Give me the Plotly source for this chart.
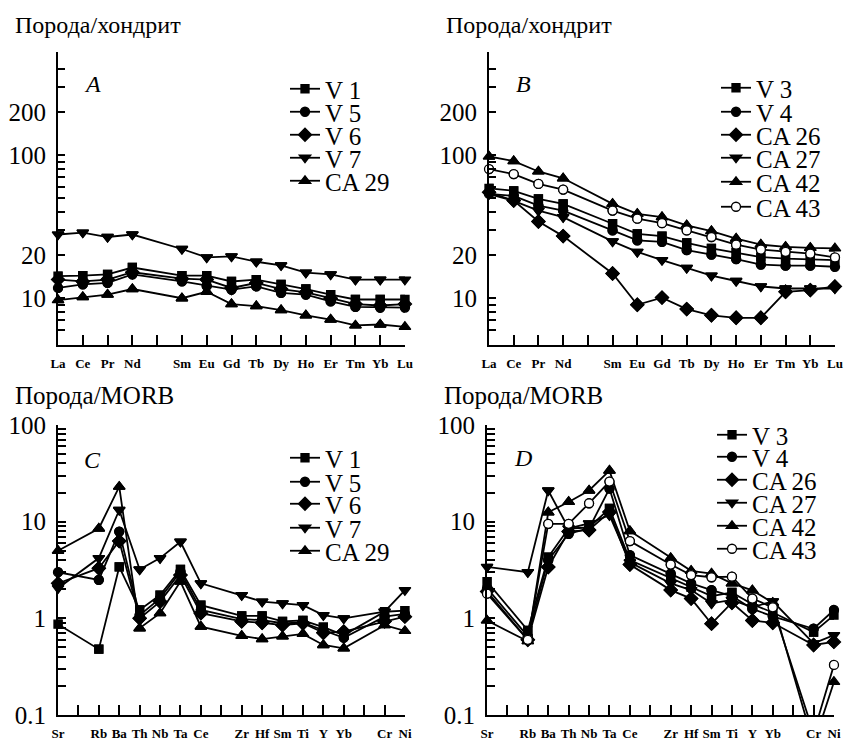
import plotly.graph_objects as go

W, H = 844, 741

# ---------------- data ----------------
REE_AXIS = ["La", "Ce", "Pr", "Nd", "", "Sm", "Eu", "Gd", "Tb", "Dy", "Ho", "Er", "Tm", "Yb", "Lu"]
REE = ["La", "Ce", "Pr", "Nd", "Sm", "Eu", "Gd", "Tb", "Dy", "Ho", "Er", "Tm", "Yb", "Lu"]
TE_AXIS = ["Sr", "", "Rb", "Ba", "Th", "Nb", "Ta", "Ce", "", "Zr", "Hf", "Sm", "Ti", "Y", "Yb", "", "Cr", "Ni"]
TE = ["Sr", "Rb", "Ba", "Th", "Nb", "Ta", "Ce", "Zr", "Hf", "Sm", "Ti", "Y", "Yb", "Cr", "Ni"]

# Panel A: rock / chondrite
A_V1 = [14.3, 14.4, 14.7, 16.4, 14.4, 14.4, 13.1, 13.5, 12.5, 11.6, 10.6, 9.8, 9.8, 9.8]
A_V5 = [11.8, 12.5, 12.8, 14.7, 13.1, 12.2, 11.5, 12.1, 10.9, 10.6, 9.5, 8.7, 8.6, 8.6]
A_V6 = [13.5, 13.1, 13.5, 15.2, 13.7, 13.5, 11.8, 12.8, 11.6, 11.0, 10.0, 9.1, 8.9, 9.1]
A_V7 = [27.9, 28.8, 26.8, 27.9, 22.1, 19.3, 19.6, 18.0, 17.0, 15.1, 14.7, 13.5, 13.5, 13.5]
A_CA29 = [9.7, 10.2, 10.6, 11.6, 10.0, 11.1, 9.1, 8.8, 8.25, 7.6, 7.1, 6.45, 6.55, 6.3]

# Panel B: rock / chondrite
B_V3 = [58.6, 56.4, 49.5, 45.7, 33.2, 28.2, 27.2, 24.4, 22.3, 20.9, 19.4, 18.9, 18.8, 18.5]
B_V4 = [53.6, 52.0, 44.5, 41.0, 29.8, 25.4, 24.8, 21.7, 20.2, 18.8, 17.2, 16.9, 16.9, 16.6]
B_CA26 = [55.0, 48.2, 34.4, 27.2, 14.9, 9.0, 10.1, 8.4, 7.6, 7.3, 7.3, 11.1, 11.4, 12.1]
B_CA27 = [53.6, 48.0, 41.0, 36.9, 25.0, 21.1, 18.5, 16.3, 14.4, 13.2, 12.1, 11.7, 11.7, 11.7]
B_CA42 = [98.0, 91.0, 77.0, 69.0, 45.7, 38.9, 36.9, 32.3, 29.5, 26.1, 23.7, 22.9, 22.5, 22.3]
B_CA43 = [80.0, 73.8, 63.0, 57.5, 41.0, 36.0, 33.5, 29.8, 26.8, 23.7, 21.9, 21.1, 20.5, 19.3]

# Panel C: rock / MORB
C_V1 = [0.87, 0.48, 3.4, 1.22, 1.74, 3.2, 1.37, 1.06, 1.06, 0.93, 0.95, 0.81, 0.67, 1.17, 1.2]
C_V5 = [3.0, 2.5, 7.9, 1.08, 1.61, 3.04, 1.22, 0.98, 0.96, 0.89, 0.9, 0.76, 0.63, 1.04, 1.11]
C_V6 = [2.3, 3.3, 6.3, 1.0, 1.49, 2.8, 1.13, 0.93, 0.9, 0.85, 0.89, 0.71, 0.73, 0.93, 1.04]
C_V7 = [2.05, 4.2, 13.2, 3.2, 4.2, 6.2, 2.3, 1.74, 1.49, 1.43, 1.37, 1.08, 1.0, 1.17, 1.96]
C_CA29 = [5.0, 8.5, 23.0, 0.79, 1.13, 2.4, 0.82, 0.66, 0.61, 0.65, 0.69, 0.53, 0.49, 0.85, 0.74]

# Panel D: rock / MORB
D_V3 = [2.4, 0.75, 4.3, 8.5, 8.7, 13.7, 4.0, 2.6, 2.1, 1.7, 1.85, 1.4, 1.15, 0.72, 1.08]
D_V4 = [2.05, 0.65, 4.0, 7.5, 8.5, 22.0, 4.5, 2.9, 2.3, 1.96, 1.7, 1.25, 1.05, 0.78, 1.22]
D_CA26 = [1.9, 0.6, 3.4, 7.9, 8.2, 12.6, 3.6, 1.96, 1.6, 0.88, 1.45, 0.95, 0.9, 0.53, 0.57]
D_CA27 = [3.4, 3.0, 21.0, 8.5, 9.6, 11.7, 3.8, 2.3, 1.96, 1.43, 1.55, 1.3, 1.5, 0.55, 0.67]
D_CA42 = [0.95, 0.58, 12.5, 16.0, 21.0, 33.7, 8.0, 4.2, 3.1, 2.9, 2.3, 1.95, 1.45, 0.05, 0.22]
D_CA43 = [1.8, 0.6, 9.5, 9.5, 15.5, 26.0, 6.3, 3.6, 2.8, 2.66, 2.7, 1.6, 1.3, 0.065, 0.33]

REE_TICKS = [6, 7, 8, 9, 10, 20, 30, 40, 50, 60, 70, 80, 90, 100, 200, 300, 400]
REE_TICK_LABELS = ["", "", "", "", "10", "20", "", "", "", "", "", "", "", "100", "200", "", ""]
TE_TICKS = [0.1, 0.2, 0.3, 0.4, 0.5, 0.6, 0.7, 0.8, 0.9, 1, 2, 3, 4, 5, 6, 7, 8, 9,
            10, 20, 30, 40, 50, 60, 70, 80, 90, 100]
TE_TICK_LABELS = ["0.1"] + [""] * 8 + ["1"] + [""] * 8 + ["10"] + [""] * 8 + ["100"]

TITLE_CHONDRITE = "Порода/хондрит"
TITLE_MORB = "Порода/MORB"

# ---------------- styling ----------------
FONT = "Liberation Serif, Times New Roman, serif"
MARK = {
    "sq": dict(symbol="square", size=8, color="black"),
    "ci": dict(symbol="circle", size=9, color="black"),
    "di": dict(symbol="diamond", size=10, color="black"),
    "dn": dict(symbol="triangle-down", size=10, color="black"),
    "up": dict(symbol="triangle-up", size=10, color="black"),
    "oc": dict(symbol="circle", size=9, color="white"),
}

REE_RANGE = [0.673, 2.722]
TE_RANGE = [-1.0, 2.0]


def px_x(p):
    return p / W


def px_y(p):
    return 1 - p / H


panels = [
    dict(ax="", dom_x=(58, 405), dom_y=(52, 345), slots=REE_AXIS, elems=REE,
         yr=REE_RANGE, ticks=REE_TICKS, labels=REE_TICK_LABELS, yticklen=7,
         series=[("V 1", A_V1, "sq"), ("V 5", A_V5, "ci"), ("V 6", A_V6, "di"),
                 ("V 7", A_V7, "dn"), ("CA 29", A_CA29, "up")],
         rows=[89, 112, 135, 158, 181], leg_x=285,
         title=TITLE_CHONDRITE, tsize=24, title_pos=(13, 25), letter="A", letter_pos=(92, 84)),
    dict(ax="2", dom_x=(489, 835), dom_y=(52, 345), slots=REE_AXIS, elems=REE,
         yr=REE_RANGE, ticks=REE_TICKS, labels=REE_TICK_LABELS, yticklen=7,
         series=[("V 3", B_V3, "sq"), ("V 4", B_V4, "ci"), ("CA 26", B_CA26, "di"),
                 ("CA 27", B_CA27, "dn"), ("CA 42", B_CA42, "up"), ("CA 43", B_CA43, "oc")],
         rows=[88, 112, 135, 158, 182, 207], leg_x=716,
         title=TITLE_CHONDRITE, tsize=24, title_pos=(444, 25), letter="B", letter_pos=(523, 84)),
    dict(ax="3", dom_x=(58, 405), dom_y=(425, 715), slots=TE_AXIS, elems=TE,
         yr=TE_RANGE, ticks=TE_TICKS, labels=TE_TICK_LABELS, yticklen=8,
         series=[("V 1", C_V1, "sq"), ("V 5", C_V5, "ci"), ("V 6", C_V6, "di"),
                 ("V 7", C_V7, "dn"), ("CA 29", C_CA29, "up")],
         rows=[458, 482, 504, 528, 551], leg_x=285,
         title=TITLE_MORB, tsize=25, title_pos=(13, 395), letter="C", letter_pos=(92, 460)),
    dict(ax="4", dom_x=(487, 834), dom_y=(425, 715), slots=TE_AXIS, elems=TE,
         yr=TE_RANGE, ticks=TE_TICKS, labels=TE_TICK_LABELS, yticklen=8,
         series=[("V 3", D_V3, "sq"), ("V 4", D_V4, "ci"), ("CA 26", D_CA26, "di"),
                 ("CA 27", D_CA27, "dn"), ("CA 42", D_CA42, "up"), ("CA 43", D_CA43, "oc")],
         rows=[435, 457, 480, 503, 526, 549], leg_x=712,
         title=TITLE_MORB, tsize=25, title_pos=(442, 395), letter="D", letter_pos=(523, 458)),
]

fig = go.Figure()
layout = dict(
    width=W, height=H, margin=dict(l=0, r=0, t=0, b=0, autoexpand=False),
    paper_bgcolor="white", plot_bgcolor="white",
    font=dict(family=FONT, color="black"),
    showlegend=True,
)
annotations = []
legend_count = 0

for p in panels:
    xa = "xaxis" + p["ax"]
    ya = "yaxis" + p["ax"]
    xref = "x" + p["ax"]
    yref = "y" + p["ax"]
    xpos = [p["slots"].index(e) for e in p["elems"]]
    ymin = 10 ** p["yr"][0]
    for k, (name, vals, mk) in enumerate(p["series"]):
        legend_count += 1
        lid = "legend" if legend_count == 1 else "legend%d" % legend_count
        st = MARK[mk]
        mstyle = dict(symbol=st["symbol"], size=st["size"], color=st["color"],
                      line=dict(color="black", width=1.3))
        # line (clipped to the plot area) + legend entry
        fig.add_trace(go.Scatter(
            x=xpos, y=vals, mode="lines+markers", name=name,
            xaxis=xref, yaxis=yref, legend=lid, cliponaxis=True,
            line=dict(color="black", width=1.8), marker=mstyle, hoverinfo="skip",
        ))
        # markers drawn unclipped so those on the axes are whole
        visible_pts = [i for i, v in enumerate(vals) if v >= ymin]
        fig.add_trace(go.Scatter(
            x=xpos, y=vals, mode="markers", name=name, showlegend=False,
            xaxis=xref, yaxis=yref, cliponaxis=False, marker=mstyle,
            selectedpoints=visible_pts,
            selected=dict(marker=dict(opacity=1)),
            unselected=dict(marker=dict(opacity=0)),
            hoverinfo="skip",
        ))
        layout[lid] = dict(
            x=px_x(p["leg_x"]), y=px_y(p["rows"][k]), xanchor="left", yanchor="middle",
            xref="paper", yref="paper", bgcolor="rgba(0,0,0,0)", borderwidth=0,
            font=dict(family=FONT, size=25, color="black"), itemwidth=30,
            itemclick=False, itemdoubleclick=False,
        )
    layout[xa] = dict(
        domain=[px_x(p["dom_x"][0]), px_x(p["dom_x"][1])],
        anchor=yref, range=[0, len(p["slots"]) - 1],
        tickmode="array", tickvals=list(range(len(p["slots"]))), ticktext=p["slots"],
        ticks="inside", ticklen=10, tickwidth=2, tickcolor="black",
        showline=True, linecolor="black", linewidth=2, showgrid=False, zeroline=False,
        tickfont=dict(family=FONT, size=13, color="black", weight="bold"),
        ticklabelstandoff=5, fixedrange=True,
    )
    layout[ya] = dict(
        domain=[px_y(p["dom_y"][1]), px_y(p["dom_y"][0])],
        anchor=xref, type="log", range=p["yr"],
        tickmode="array", tickvals=p["ticks"], ticktext=p["labels"],
        ticks="inside", ticklen=p["yticklen"], tickwidth=2, tickcolor="black",
        showline=True, linecolor="black", linewidth=2, showgrid=False, zeroline=False,
        tickfont=dict(family=FONT, size=25, color="black"),
        ticklabelstandoff=5, fixedrange=True,
    )
    annotations.append(dict(
        text=p["title"], x=px_x(p["title_pos"][0]), y=px_y(p["title_pos"][1]),
        xref="paper", yref="paper", xanchor="left", yanchor="middle", showarrow=False,
        font=dict(family=FONT, size=p["tsize"], color="black"),
    ))
    annotations.append(dict(
        text="<i>%s</i>" % p["letter"], x=px_x(p["letter_pos"][0]), y=px_y(p["letter_pos"][1]),
        xref="paper", yref="paper", xanchor="center", yanchor="middle", showarrow=False,
        font=dict(family=FONT, size=24, color="black"),
    ))

layout["annotations"] = annotations
fig.update_layout(**layout)
# remove the default page margin so the 844x741 figure fills the window exactly
fig.write_html(
    "out.html",
    config={"displayModeBar": False, "staticPlot": True},
    post_script="document.body.style.margin='0';document.body.style.overflow='hidden';",
)
